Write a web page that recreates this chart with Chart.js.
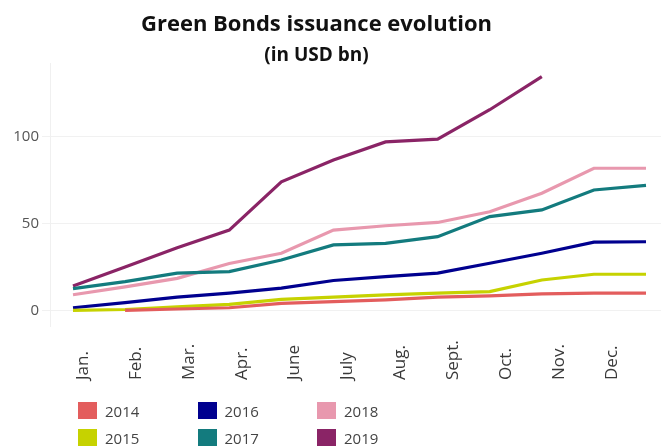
<!DOCTYPE html>
<html>
<head>
<meta charset="utf-8">
<script src="https://cdn.jsdelivr.net/npm/chart.js@4.4.1/dist/chart.umd.min.js"></script>
<style>
  html, body { margin: 0; padding: 0; background: #fff; }
  #wrap { position: relative; width: 661px; height: 447px; overflow: hidden; font-family: "Open Sans", sans-serif; }
  #wrap canvas { position: absolute; left: 0; top: 0; }
  .title { position: absolute; left: 0; width: 633px; text-align: center; font-weight: bold; color: #111; line-height: 1; white-space: nowrap; }
  #t1 { top: 11px; font-size: 22px; }
  #t2 { top: 45px; font-size: 19px; }
  .leg { position: absolute; display: flex; align-items: center; height: 17px; font-size: 15px; color: #444; }
  .leg span.box { display: inline-block; width: 19px; height: 17px; margin-right: 8px; }
</style>
</head>
<body>
<div id="wrap">
  <canvas id="chart" width="661" height="447"></canvas>
  <div class="title" id="t1">Green Bonds issuance evolution</div>
  <div class="title" id="t2">(in USD bn)</div>
  <div id="legend"></div>
</div>
<script>
// Month tick labels (the source chart shows 11 labels for 12 points)
const monthLabels = ['Jan.', 'Feb.', 'Mar.', 'Apr.', 'June', 'July', 'Aug.', 'Sept.', 'Oct.', 'Nov.', 'Dec.'];

// Cumulative issuance per year, USD bn
const years = ['2014', '2015', '2016', '2017', '2018', '2019'];
const y2014 = [null, 0, 0.8, 1.5, 4, 5, 6, 7.6, 8.3, 9.5, 9.9, 9.9];
const y2015 = [0, 0.5, 2, 3.5, 6.3, 7.6, 8.9, 9.9, 10.8, 17.5, 20.8, 20.8];
const y2016 = [1.5, 4.5, 7.6, 9.9, 12.8, 17.2, 19.4, 21.4, 27.1, 32.9, 39.3, 39.5];
const y2017 = [12.5, 16.5, 21.4, 22.3, 29, 37.7, 38.6, 42.4, 54, 57.8, 69.3, 72];
const y2018 = [9, 13.5, 18.4, 27, 32.9, 46.2, 48.7, 50.6, 56.8, 67.4, 81.8, 81.8];
const y2019 = [14, 25, 36, 46.2, 74, 86.6, 97, 98.6, 115.5, 134.5, null, null];

const yTicks = [0, 50, 100];
const colors = ['#e35d5d', '#c6d200', '#00008f', '#137b7e', '#e898ae', '#8a2466'];

const series = [y2014, y2015, y2016, y2017, y2018, y2019];

// Draws the rotated month labels, bottom-aligned like the original
const monthLabelPlugin = {
  id: 'monthLabels',
  afterDraw(chart) {
    const sc = chart.scales.xl;
    const ctx = chart.ctx;
    ctx.save();
    ctx.font = '17px "Open Sans"';
    ctx.fillStyle = '#3a3a3a';
    ctx.textAlign = 'left';
    ctx.textBaseline = 'middle';
    monthLabels.forEach((m, i) => {
      ctx.save();
      ctx.translate(sc.getPixelForValue(i), 380);
      ctx.rotate(-Math.PI / 2);
      ctx.fillText(m, 0, 0);
      ctx.restore();
    });
    ctx.restore();
  }
};

const ctx = document.getElementById('chart').getContext('2d');
const chart = new Chart(ctx, {
  type: 'line',
  data: {
    datasets: series.map((vals, i) => ({
      label: years[i],
      data: vals.map((v, k) => ({ x: k, y: v })),
      borderColor: colors[i],
      backgroundColor: colors[i],
      borderWidth: 3.2,
      pointRadius: 0,
      tension: 0,
      spanGaps: false
    }))
  },
  options: {
    responsive: false,
    animation: false,
    layout: { padding: { top: 63, bottom: 121, left: 0, right: 0 } },
    plugins: {
      legend: { display: false },
      title: { display: false },
      tooltip: { enabled: false }
    },
    scales: {
      x: {
        type: 'linear',
        display: false,
        min: -0.4415,
        max: 11.288
      },
      xl: {
        type: 'linear',
        axis: 'x',
        position: 'bottom',
        display: false,
        min: -0.624,
        max: 10.926
      },
      y: {
        min: -9,
        max: 142.4,
        afterBuildTicks: scale => { scale.ticks = yTicks.map(v => ({ value: v })); },
        afterFit: scale => { scale.width = 50; },
        grid: { color: '#f1f1f1', tickLength: 8 },
        border: { color: '#f0f0f0' },
        ticks: {
          color: '#555',
          padding: 3,
          font: { family: 'Open Sans', size: 15 }
        }
      }
    }
  },
  plugins: [monthLabelPlugin]
});

// HTML legend: two rows, three columns (column-major like the source)
const legend = document.getElementById('legend');
years.forEach((yr, i) => {
  const col = Math.floor(i / 2);
  const row = i % 2;
  const item = document.createElement('div');
  item.className = 'leg';
  item.style.left = (78 + col * 119.5) + 'px';
  item.style.top = (402 + row * 27) + 'px';
  item.innerHTML = `<span class="box" style="background:${colors[i]}"></span>${yr}`;
  legend.appendChild(item);
});
</script>
</body>
</html>
